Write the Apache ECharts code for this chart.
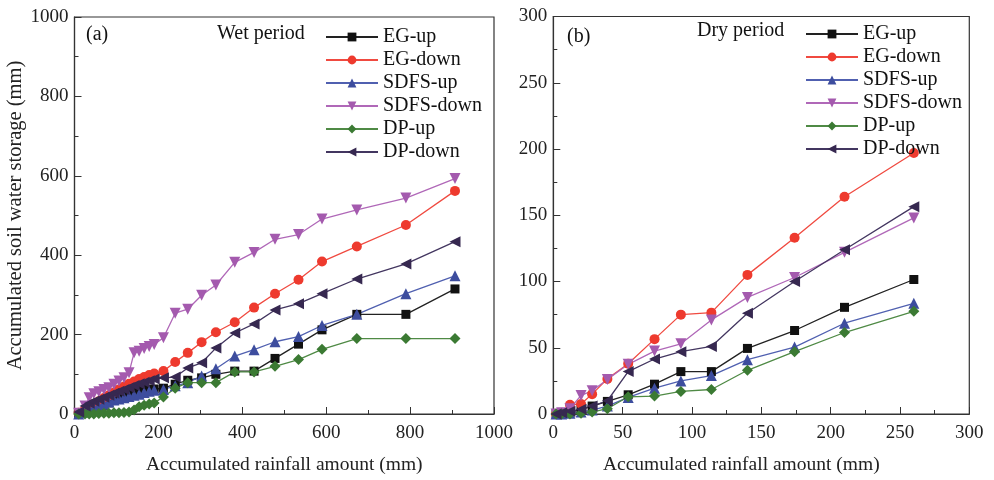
<!DOCTYPE html>
<html>
<head>
<meta charset="utf-8">
<script src="https://cdn.jsdelivr.net/npm/echarts@6/dist/echarts.min.js"></script>
<style>
html,body{margin:0;padding:0;background:#fff;}
#chart{width:994px;height:480px;}
</style>
</head>
<body>
<div id="chart"></div>
<script>
var seriesNames = ['EG-up', 'EG-down', 'SDFS-up', 'SDFS-down', 'DP-up', 'DP-down'];

// wet period: accumulated rainfall (mm)
var wetRain = [10, 25, 35, 46, 58, 70, 82, 94, 106, 118, 130, 142, 154, 166, 178, 190, 212, 240, 270, 303, 337, 382, 428, 478, 534, 590, 673, 790, 907];
var wetEGup    = [0, 4, 8, 12, 17, 22, 28, 34, 40, 46, 52, 57, 60, 62, 62, 63, 65, 75, 85, 91, 100, 108, 108, 140, 176, 212, 251, 251, 315];
var wetEGdown  = [3, 12, 18, 25, 32, 40, 47, 54, 62, 69, 76, 82, 88, 93, 98, 102, 108, 131, 154, 181, 206, 231, 268, 303, 338, 384, 422, 476, 562];
var wetSDFSup  = [0, 5, 10, 15, 20, 25, 30, 35, 38, 41, 44, 47, 50, 54, 57, 60, 62, 71, 79, 96, 114, 146, 162, 182, 195, 223, 251, 303, 348];
var wetSDFSdown= [2, 20, 41, 51, 56, 62, 66, 75, 83, 91, 104, 154, 158, 165, 170, 175, 192, 254, 264, 299, 325, 382, 407, 440, 452, 491, 514, 544, 593];
var wetDPup    = [0, 0, 0, 0, 1, 2, 2, 3, 3, 4, 5, 10, 18, 22, 25, 28, 43, 65, 79, 79, 79, 106, 106, 120, 137, 163, 190, 190, 190];
var wetDPdown  = [5, 20, 27, 32, 37, 42, 47, 52, 57, 62, 67, 72, 76, 80, 84, 88, 91, 93, 116, 129, 166, 204, 227, 262, 278, 303, 340, 378, 434];

// dry period
var dryRain = [2, 6, 12, 20, 28, 39, 54, 73, 92, 114, 140, 174, 210, 260];
var dryEGup    = [0, 0.5, 1, 3.5, 6, 9.5, 14.5, 22.5, 32, 32, 49.5, 63, 80.5, 101.5];
var dryEGdown  = [0, 1, 7, 7.5, 15, 26.5, 38, 56.5, 75, 76.5, 105, 133, 164, 197];
var drySDFSup  = [0, 0, 0.5, 1.5, 3, 6, 12.5, 19.5, 25, 29, 41, 50.5, 68.5, 83.5];
var drySDFSdown= [0, 1, 4, 14, 17.5, 26, 37.5, 47.5, 53, 71, 88, 103, 122, 148];
var dryDPup    = [0, 0, 0, 0.5, 1.5, 4, 13, 13.5, 17, 18.5, 33, 47, 61.5, 77.5];
var dryDPdown  = [0, 1, 2, 3.5, 6, 10, 32, 41.5, 47, 51, 76, 100, 124, 156.5];

var styles = [
  {color: '#111111', line: '#222222', symbol: 'rect', size: 9, rot: 0},
  {color: '#ee3a2e', line: '#f04a40', symbol: 'circle', size: 10, rot: 0},
  {color: '#3d4d9e', line: '#5060b0', symbol: 'triangle', size: 11, rot: 0},
  {color: '#a45aae', line: '#b068b8', symbol: 'triangle', size: 11, rot: 180},
  {color: '#3b7a33', line: '#4f8a45', symbol: 'diamond', size: 11, rot: 0},
  {color: '#362850', line: '#433660', symbol: 'triangle', size: 11, rot: 90}
];

var wetVals = [wetEGup, wetEGdown, wetSDFSup, wetSDFSdown, wetDPup, wetDPdown];
var dryVals = [dryEGup, dryEGdown, drySDFSup, drySDFSdown, dryDPup, dryDPdown];

function pairs(xs, ys) {
  return xs.map(function (x, i) { return [x, ys[i]]; });
}

var font = 'Liberation Serif';
var series = [];
[[wetRain, wetVals, 0], [dryRain, dryVals, 1]].forEach(function (p) {
  p[1].forEach(function (vals, i) {
    var s = styles[i];
    series.push({
      name: seriesNames[i],
      type: 'line',
      xAxisIndex: p[2],
      yAxisIndex: p[2],
      data: pairs(p[0], vals),
      symbol: s.symbol,
      symbolSize: s.size,
      symbolRotate: s.rot,
      showAllSymbol: true,
      itemStyle: {color: s.color},
      lineStyle: {color: s.line, width: 1.3},
      emphasis: {disabled: true},
      animation: false
    });
  });
});

function plain(v) { return String(v); }

function xAx(idx, max, interval, shift) {
  return {
    type: 'value', gridIndex: idx, min: 0, max: max, interval: interval,
    name: 'Accumulated rainfall amount (mm)', nameLocation: 'middle', nameGap: 41,
    nameTextStyle: {fontFamily: font, fontSize: 19.5, color: '#222', padding: [0, shift, 0, 0]},
    axisLine: {lineStyle: {color: '#333', width: 1.2}},
    axisTick: {inside: true, length: 7, lineStyle: {color: '#333'}},
    minorTick: {show: true, splitNumber: 2, length: 4, lineStyle: {color: '#333'}},
    axisLabel: {fontFamily: font, fontSize: 19, color: '#222', margin: 10, formatter: plain},
    splitLine: {show: false}
  };
}
function yAx(idx, max, interval, name) {
  return {
    type: 'value', gridIndex: idx, min: 0, max: max, interval: interval,
    name: name, nameLocation: 'middle', nameGap: 44,
    nameTextStyle: {fontFamily: font, fontSize: 20.5, color: '#222'},
    axisLine: {show: true, lineStyle: {color: '#333', width: 1.2}},
    axisTick: {show: true, inside: true, length: 7, lineStyle: {color: '#333'}},
    minorTick: {show: true, splitNumber: 2, length: 4, lineStyle: {color: '#333'}},
    axisLabel: {fontFamily: font, fontSize: 19, color: '#222', margin: 6, formatter: plain},
    splitLine: {show: false}
  };
}

function legendAt(left, top) {
  return {
    data: seriesNames, orient: 'vertical', left: left, top: top,
    itemWidth: 52, itemHeight: 11, itemGap: 3,
    textStyle: {fontFamily: font, fontSize: 20, color: '#111', lineHeight: 20},
    selectedMode: false
  };
}

var titleStyle = {fontFamily: font, fontSize: 20, fontWeight: 'normal', color: '#111'};

var chart = echarts.init(document.getElementById('chart'));
chart.setOption({
  backgroundColor: '#fff',
  animation: false,
  title: [
    {text: '(a)', left: 86, top: 25, textStyle: titleStyle, padding: 0},
    {text: 'Wet period', left: 217, top: 24, textStyle: titleStyle, padding: 0},
    {text: '(b)', left: 567, top: 27, textStyle: titleStyle, padding: 0},
    {text: 'Dry period', left: 697, top: 21, textStyle: titleStyle, padding: 0}
  ],
  legend: [legendAt(320, 22), legendAt(800, 19)],
  grid: [
    {left: 74.5, right: 500, top: 17, bottom: 63.5, show: true, borderColor: '#333', borderWidth: 1.2, backgroundColor: 'transparent'},
    {left: 553.3, right: 24.7, top: 16.5, bottom: 63.5, show: true, borderColor: '#333', borderWidth: 1.2, backgroundColor: 'transparent'}
  ],
  xAxis: [xAx(0, 1000, 200, 0), xAx(1, 300, 50, 40)],
  yAxis: [yAx(0, 1000, 200, 'Accumulated soil water storage (mm)'), yAx(1, 300, 50, '')],
  series: series
});
</script>
</body>
</html>
